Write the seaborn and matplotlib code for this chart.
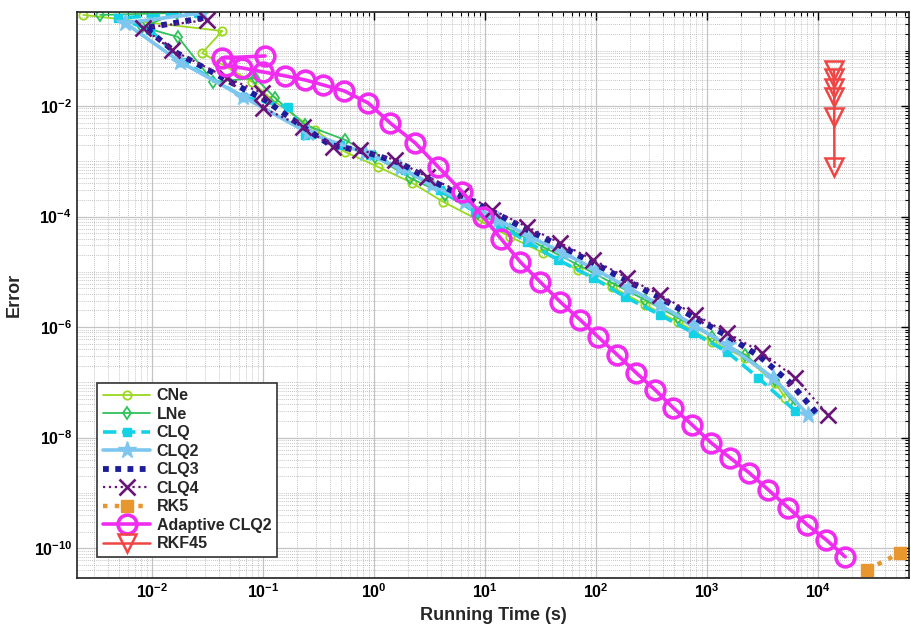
import matplotlib
matplotlib.use("Agg")
import matplotlib.pyplot as plt
from matplotlib.ticker import LogLocator, NullFormatter
import numpy as np
import seaborn as sns

# Running time (s) and error for each integrator
cne_time = [0.00239, 0.0427, 0.0282, 0.0796, 0.121, 0.294, 0.548, 1.087, 2.20, 4.19,
            8.65, 16.8, 33.3, 68.9, 139, 276, 548, 1110, 2200, 4100, 5050]
cne_err = [0.443, 0.227, 0.0908, 0.0272, 0.0128, 0.00368, 0.00147, 0.000789, 0.000405, 0.000184,
           8.69e-5, 4.28e-5, 2.20e-5, 1.08e-5, 5.33e-6, 2.52e-6, 1.24e-6, 5.40e-7, 2.77e-7, 9.79e-8, 5.25e-8]

lne_time = [0.00340, 0.0168, 0.00813, 0.0171, 0.0355, 0.0847, 0.128, 0.239, 0.548, 1.02, 2.11,
            4.37, 8.65, 16.8, 34.7, 68.9, 139, 276, 548, 1110, 2200, 4100, 6210]
lne_err = [0.443, 0.481, 0.268, 0.177, 0.0272, 0.0321, 0.0140, 0.00453, 0.00243, 0.00120, 0.000499,
           0.000246, 0.000116, 5.73e-5, 2.70e-5, 1.33e-5, 6.30e-6, 3.10e-6, 1.47e-6, 6.65e-7, 3.14e-7,
           1.11e-7, 3.92e-8]

clq_time = [0.0259, 0.00494, 0.00959, 0.0190, 0.0661, 0.168, 0.239, 0.494, 0.920, 1.90, 3.94,
            8.13, 13.6, 23.9, 45.5, 94.0, 182, 377, 749, 1514, 2880, 6210]
clq_err = [0.481, 0.390, 0.237, 0.0625, 0.0146, 0.00959, 0.00299, 0.00197, 0.00130, 0.000697, 0.000303,
           0.000121, 7.05e-5, 3.47e-5, 1.64e-5, 7.76e-6, 3.52e-6, 1.66e-6, 7.85e-7, 3.56e-7, 1.21e-7, 3.05e-8]

clq2_time = [0.0282, 0.00571, 0.0179, 0.0661, 0.254, 0.830, 1.71, 3.33, 6.61, 13.1, 25.4, 50.5,
             100, 194, 377, 749, 1514, 3930, 8130]
clq2_err = [0.481, 0.317, 0.0625, 0.0146, 0.00325, 0.00141, 0.000757, 0.000373, 0.000184, 8.69e-5,
            4.28e-5, 2.20e-5, 1.08e-5, 5.12e-6, 2.52e-6, 1.10e-6, 4.76e-7, 1.21e-7, 2.58e-8]

clq3_time = [0.0288, 0.00865, 0.0161, 0.0504, 0.104, 0.215, 0.402, 0.830, 1.71, 3.20, 5.96, 12.3,
             23.9, 47.4, 94.0, 190, 377, 749, 1514, 3000, 5600, 10000]
clq3_err = [0.390, 0.257, 0.0946, 0.0272, 0.0128, 0.00453, 0.00197, 0.00147, 0.000931, 0.000459,
            0.000246, 0.000116, 5.73e-5, 2.94e-5, 1.45e-5, 6.84e-6, 3.37e-6, 1.53e-6, 6.93e-7,
            2.89e-7, 9.79e-8, 2.58e-8]

clq4_time = [0.0313, 0.00830, 0.0151, 0.0474, 0.0979, 0.100, 0.229, 0.427, 0.748, 1.545, 3.00,
             6.34, 11.6, 23.9, 47.4, 94.0, 190, 377, 780, 1514, 3130, 6210, 12300]
clq4_err = [0.359, 0.257, 0.103, 0.0321, 0.0172, 0.00920, 0.00417, 0.00181, 0.00160, 0.00106,
            0.000520, 0.000267, 0.000132, 6.49e-5, 3.33e-5, 1.64e-5, 7.76e-6, 3.82e-6, 1.66e-6,
            7.85e-7, 3.42e-7, 1.21e-7, 2.58e-8]

rk5_time = [27600, 54700]
rk5_err = [4.07e-11, 8.26e-11]

adaptive_time = [0.104, 0.0427, 0.0465, 0.0647, 0.100, 0.158, 0.239, 0.347, 0.537, 0.883, 1.39,
                 2.34, 3.77, 6.21, 9.59, 13.9, 20.7, 31.3, 47.4, 71.8, 104, 155, 229, 340, 494,
                 733, 1086, 1610, 2390, 3550, 5370, 7960, 11800, 17500]
adaptive_err = [0.0802, 0.0738, 0.0529, 0.0487, 0.0412, 0.0349, 0.0295, 0.0240, 0.0187, 0.0113,
                0.00493, 0.00214, 0.000789, 0.000279, 9.84e-5, 3.94e-5, 1.51e-5, 6.56e-6, 2.86e-6,
                1.35e-6, 6.65e-7, 3.14e-7, 1.49e-7, 7.31e-8, 3.46e-8, 1.70e-8, 8.05e-9, 4.31e-9,
                2.31e-9, 1.14e-9, 5.38e-10, 2.65e-10, 1.42e-10, 6.99e-11]

rkf45_time = [13850, 13900, 13900, 13950, 13950, 14000]
rkf45_err = [0.0448, 0.0321, 0.0212, 0.0146, 0.00632, 0.000789]

x_ticks = [1e-2, 1e-1, 1e0, 1e1, 1e2, 1e3, 1e4]
y_ticks = [1e-10, 1e-8, 1e-6, 1e-4, 1e-2]

sns.set_style("white")
plt.rcParams.update({
    "font.family": ["Liberation Sans", "DejaVu Sans"],
    "font.weight": "bold",
    "axes.labelweight": "bold",
    "mathtext.default": "regular",
})

fig, ax = plt.subplots(figsize=(9.11, 6.33), dpi=100)
fig.subplots_adjust(left=0.0845, right=0.998, bottom=0.087, top=0.981)
ax.set_xscale("log")
ax.set_yscale("log")

series = [
    ("CNe", cne_time, cne_err, dict(color="#9bd81e", linestyle="-", linewidth=1.3, marker="o",
                                    markersize=6, markerfacecolor="none", markeredgecolor="#9bd81e",
                                    markeredgewidth=1.3)),
    ("LNe", lne_time, lne_err, dict(color="#2fc25c", linestyle="-", linewidth=1.3, marker="d",
                                    markersize=6, markerfacecolor="none", markeredgecolor="#2fc25c",
                                    markeredgewidth=1.3)),
    ("CLQ", clq_time, clq_err, dict(color="#14d2e6", linestyle="--", linewidth=2.6, marker="s",
                                    markersize=6, markerfacecolor="#14d2e6", markeredgecolor="#14d2e6",
                                    markeredgewidth=1)),
    ("CLQ2", clq2_time, clq2_err, dict(color="#7cc6f0", linestyle="-", linewidth=2.6, marker="*",
                                       markersize=13, markerfacecolor="#7cc6f0",
                                       markeredgecolor="#7cc6f0", markeredgewidth=1)),
    ("CLQ3", clq3_time, clq3_err, dict(color="#1c1c9c", linestyle=(0, (1, 1.1)), linewidth=4.2,
                                       marker=None, markeredgecolor="#1c1c9c", markeredgewidth=1)),
    ("CLQ4", clq4_time, clq4_err, dict(color="#6a147a", linestyle=":", linewidth=1.6, marker="x",
                                       markersize=12, markeredgecolor="#6a147a", markeredgewidth=1.9)),
    ("RK5", rk5_time, rk5_err, dict(color="#e8962e", linestyle=":", linewidth=3.2, marker="s",
                                    markersize=8.5, markerfacecolor="#e8962e",
                                    markeredgecolor="#e8962e", markeredgewidth=1)),
    ("Adaptive CLQ2", adaptive_time, adaptive_err, dict(color="#f02cf0", linestyle="-", linewidth=2.6,
                                                        marker="o", markersize=13.5,
                                                        markerfacecolor="none",
                                                        markeredgecolor="#f02cf0",
                                                        markeredgewidth=2.6)),
    ("RKF45", rkf45_time, rkf45_err, dict(color="#f04545", linestyle="-", linewidth=1.8, marker="v",
                                          markersize=13, markerfacecolor="none",
                                          markeredgecolor="#f04545", markeredgewidth=1.8)),
]

for label, t, e, style in series:
    sns.lineplot(x=t, y=e, ax=ax, sort=False, estimator=None, label=label, **style)

ax.set_xlim(2.1e-3, 6.6e4)
ax.set_ylim(2.9e-11, 0.5)

ax.set_xticks(x_ticks)
ax.set_yticks(y_ticks)
ax.xaxis.set_minor_locator(LogLocator(base=10, subs=np.arange(2, 10), numticks=100))
ax.yaxis.set_minor_locator(LogLocator(base=10, subs=np.arange(1, 10), numticks=100))
ax.xaxis.set_minor_formatter(NullFormatter())
ax.yaxis.set_minor_formatter(NullFormatter())

ax.grid(which="major", color="#c4c4c4", linestyle="-", linewidth=0.9)
ax.grid(which="minor", color="#b0b0b0", linestyle=(0, (1, 1.5)), linewidth=0.6)
ax.set_axisbelow(True)

ax.tick_params(which="both", direction="in", top=True, right=True, labelsize=11.5, colors="black")
ax.tick_params(which="major", length=6, width=1)
ax.tick_params(which="minor", length=3, width=0.8)
for sp in ax.spines.values():
    sp.set_color("#222222")
    sp.set_linewidth(1.2)

ax.set_xlabel("Running Time (s)", fontsize=13, fontweight="bold", labelpad=4)
ax.set_ylabel("Error", fontsize=13, fontweight="bold", labelpad=8)

leg = ax.legend(loc="lower left", bbox_to_anchor=(0.024, 0.037), borderaxespad=0,
                frameon=True, fancybox=False, framealpha=1, edgecolor="#333333",
                prop={"weight": "bold", "size": 11.5}, handlelength=3.0,
                labelspacing=0.22, borderpad=0.35, handletextpad=0.4)
leg.get_frame().set_linewidth(1.2)

fig.savefig("out.png", dpi=100)
